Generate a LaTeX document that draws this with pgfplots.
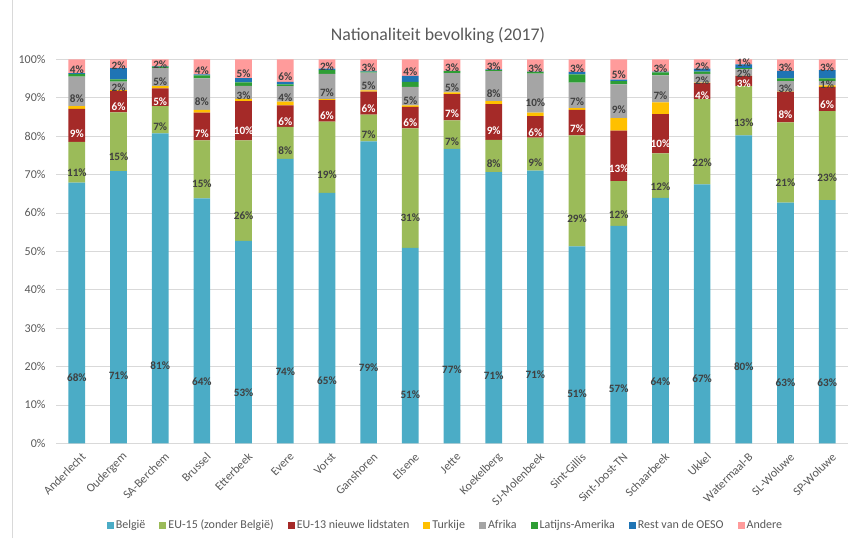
\documentclass[border=0pt]{standalone}
\usepackage{fontspec}
\setmainfont{Carlito}
\usepackage{pgfplots}
\usepackage{pgfplotstable}
\pgfplotsset{compat=1.18}

\definecolor{cBE}{HTML}{4BACC6}
\definecolor{cEU15}{HTML}{9BBB59}
\definecolor{cEU13}{HTML}{A52A28}
\definecolor{cTR}{HTML}{FFC000}
\definecolor{cAF}{HTML}{A5A5A5}
\definecolor{cLA}{HTML}{2E9E35}
\definecolor{cOE}{HTML}{1F74B4}
\definecolor{cAN}{HTML}{FF9B9B}
\definecolor{txt}{HTML}{595959}
\definecolor{lbl}{HTML}{404040}
\definecolor{grid}{HTML}{D9D9D9}

\pgfplotstableread{
x  be    eu15  eu13  tr   af    la   oe   an
0  67.9  10.6  8.6   0.7  7.7   0.7  0.2  3.6
1  70.9  15.3  5.6   0.2  2.2   0.6  2.9  2.3
2  80.7  7.1   4.6   0.6  4.7   0.4  0.1  1.8
3  63.8  15.1  7.2   0.7  8.2   0.8  0.3  3.9
4  52.7  26.2  10.2  0.6  3.4   0.9  1.1  4.9
5  74.1  8.3   5.6   1.0  4.0   0.5  0.6  5.9
6  65.2  18.6  5.6   0.2  6.6   1.0  0.4  2.4
7  78.6  7.0   6.0   0.3  4.6   0.3  0.2  3.0
8  50.9  31.1  5.6   0.4  4.8   1.3  1.6  4.3
9  76.7  7.4   6.8   0.5  5.0   0.5  0.1  3.0
10 70.6  8.4   9.3   0.8  7.8   0.3  0.2  2.6
11 71.0  8.6   5.6   0.9  10.2  0.4  0.1  3.2
12 51.3  28.9  6.6   0.5  6.6   2.2  0.6  3.3
13 56.6  11.7  13.1  3.3  8.8   0.8  0.4  5.3
14 63.9  11.6  10.2  3.1  7.0   0.8  0.2  3.2
15 67.4  22.2  4.2   0.1  2.3   0.6  0.8  2.4
16 80.2  12.8  2.6   0.1  1.7   0.3  1.0  1.3
17 62.7  20.9  7.9   0.1  2.7   0.7  2.0  3.0
18 63.3  23.2  6.3   0.4  1.1   0.7  2.2  2.8
}\datatable

\pgfplotsset{
  calc half offset/.code={%
    \pgfkeys{/pgf/fpu=true,/pgf/fpu/output format=fixed}%
    \pgfmathsetmacro\halfoffset{\pgfplotspointmeta*0.96}%
    \pgfkeys{/pgf/fpu=false}%
  },
  centered labels/.style={
    nodes near coords={\pgfmathprintnumber[fixed,precision=0,assume math mode=true]{\pgfplotspointmeta}\%},
    every node near coord/.append style={
      /pgfplots/calc half offset, yshift=-\halfoffset pt,
      anchor=center, inner sep=0pt,
      font=\fontsize{11.2}{13}\selectfont\bfseries, text=#1},
  },
}
\newcommand{\gap}{\rule{12pt}{0pt}}

\begin{document}
\begin{tikzpicture}
\useasboundingbox (0,0) rectangle (851pt,538pt);
\draw[grid, line width=0.75pt] (12pt,0) -- (12pt,538pt);
\begin{axis}[
  at={(56pt,94.7pt)}, anchor=south west,
  scale only axis, width=792pt, height=384pt,
  ybar stacked, bar width=16.7pt,
  xmin=-0.5, xmax=18.5, ymin=0, ymax=100,
  xtick={0,...,18},
  xticklabels={Anderlecht,Oudergem,SA-Berchem,Brussel,Etterbeek,Evere,Vorst,Ganshoren,Elsene,Jette,Koekelberg,SJ-Molenbeek,Sint-Gillis,Sint-Joost-TN,Schaarbeek,Ukkel,Watermaal-B,SL-Woluwe,SP-Woluwe},
  ytick={0,10,...,100},
  yticklabel={\pgfmathprintnumber[assume math mode=true]{\tick}\%},
  ymajorgrids, major grid style={draw=grid, line width=0.75pt},
  axis line style={draw=none}, tick style={draw=none},
  xticklabel style={rotate=45, anchor=east, font=\fontsize{12}{14}\selectfont, text=txt, xshift=0pt, yshift=-13pt},
  yticklabel style={font=\fontsize{12}{14}\selectfont, text=txt, xshift=-7pt},
  title={Nationaliteit bevolking (2017)},
  title style={at={(0.5,1)}, anchor=center, yshift=17.6pt, xshift=-14pt, font=\fontsize{17.8}{20}\selectfont, text=txt},
  legend columns=8,
  legend style={at={(0.5,-0.2128)}, anchor=center, xshift=-6.5pt, draw=none, font=\fontsize{12}{14}\selectfont, text=txt},
  legend image code/.code={\fill[#1] (0pt,-3.5pt) rectangle (7pt,3.5pt);},
]
\addplot[fill=cBE, draw=none, centered labels=lbl] table[x=x, y=be, meta=be] {\datatable};
\addplot[fill=cEU15, draw=none, centered labels=lbl] table[x=x, y=eu15, meta=eu15] {\datatable};
\addplot[fill=cEU13, draw=none, centered labels=white] table[x=x, y=eu13, meta=eu13] {\datatable};
\addplot[fill=cTR, draw=none] table[x=x, y=tr] {\datatable};
\addplot[fill=cAF, draw=none, centered labels=lbl] table[x=x, y=af, meta=af] {\datatable};
\addplot[fill=cLA, draw=none] table[x=x, y=la] {\datatable};
\addplot[fill=cOE, draw=none] table[x=x, y=oe] {\datatable};
\addplot[fill=cAN, draw=none, centered labels=lbl] table[x=x, y=an, meta=an] {\datatable};
\legend{België\gap,EU-15 (zonder België)\gap,EU-13 nieuwe lidstaten\gap,Turkije\gap,Afrika\gap,Latijns-Amerika\gap,Rest van de OESO\gap,Andere}
\end{axis}
\end{tikzpicture}
\end{document}
